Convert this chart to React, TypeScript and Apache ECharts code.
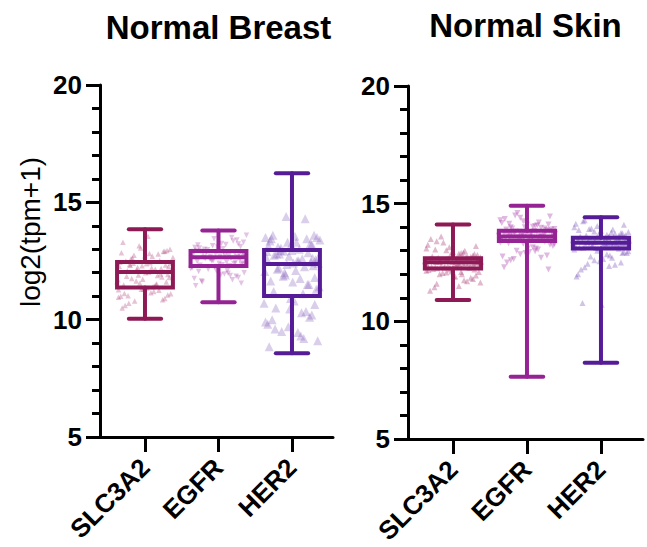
import React, { useEffect, useRef } from "react";
import * as echarts from "echarts";

const genes = ["SLC3A2", "EGFR", "HER2"];
const panels = ["Normal Breast", "Normal Skin"];
const yTicks = [5, 10, 15, 20];

// [min, Q1, median, Q3, max]
const breastSLC3A2Box = [10.04, 11.37, 12.03, 12.46, 13.85];
const breastEGFRBox = [10.74, 12.29, 12.66, 12.93, 13.8];
const breastHER2Box = [8.57, 11.01, 12.37, 12.97, 16.24];
const skinSLC3A2Box = [10.91, 12.25, 12.51, 12.68, 14.11];
const skinEGFRBox = [7.65, 13.41, 13.6, 13.85, 14.91];
const skinHER2Box = [8.24, 13.1, 13.34, 13.55, 14.42];

const jitter = [
  -0.31, 0.12, 0.27, -0.05, -0.22, 0.35, 0.03, -0.36, 0.19, -0.14,
  0.31, -0.27, 0.08, -0.02, 0.24, -0.33, 0.15, -0.09, 0.37, -0.18,
  0.01, 0.29, -0.25, 0.11, -0.37, 0.21, -0.07, 0.33, -0.12, 0.05,
  -0.29, 0.17, 0.36, -0.21, 0.09, -0.34, 0.26, -0.04, 0.14, -0.16,
  0.32, -0.24, 0.02, 0.22, -0.35, 0.07, -0.11, 0.28, -0.19, 0.34,
  -0.01, 0.18, -0.3, 0.1, -0.26, 0.25, -0.08, 0.38, -0.15, 0.04,
  -0.32, 0.2, -0.06, 0.3, -0.23, 0.13, -0.38, 0.23, -0.1, 0.35,
  -0.17, 0.06, -0.28, 0.16, -0.03, 0.31, -0.2, 0.0, 0.27, -0.36,
  0.11, -0.13, 0.37, -0.24, 0.08, -0.3, 0.19, -0.05, 0.33, -0.16,
  0.14, -0.34, 0.24, -0.09, 0.29, -0.22,
];

const breastSLC3A2Pts = [
  10.5, 11.2, 10.9, 11.3, 10.7, 11.1, 11.35, 10.95, 11.25, 10.8, 11.05, 10.6, 11.15, 11.3, 10.85, 11.0,
  11.5, 11.9, 11.45, 11.75, 12.0, 11.6, 11.85, 11.4, 11.7, 11.95, 11.55, 11.8, 11.65, 12.02, 11.48, 11.88,
  12.1, 12.35, 12.2, 12.45, 12.05, 12.3, 12.15, 12.4, 12.25, 12.08, 12.38, 12.18, 12.28, 12.43, 12.12, 12.33,
  12.6, 13.0, 12.55, 12.8, 13.3, 12.7, 12.5, 12.9, 13.15, 12.65, 12.75, 13.55, 12.85, 12.52, 13.05, 12.95,
  11.02, 11.42, 11.62, 11.82, 12.22, 12.42, 12.62, 12.82, 11.12, 11.52, 11.72, 11.92, 12.32, 12.72, 12.92, 11.28,
];
const breastEGFRPts = [
  11.45, 12.1, 11.8, 12.25, 11.6, 12.0, 11.9, 12.2, 11.7, 12.15, 11.55, 12.05, 11.95, 12.27, 11.85, 11.75,
  12.3, 12.5, 12.35, 12.6, 12.4, 12.55, 12.32, 12.45, 12.64, 12.38, 12.52, 12.42, 12.58, 12.34, 12.48, 12.62,
  12.7, 12.85, 12.75, 12.9, 12.68, 12.8, 12.72, 12.88, 12.78, 12.92, 12.7, 12.83, 12.74, 12.87, 12.69, 12.81,
  13.0, 13.3, 13.1, 13.5, 12.95, 13.2, 13.05, 13.4, 13.15, 13.6, 12.98, 13.25, 13.08, 13.35, 13.45, 13.12,
  11.65, 11.98, 12.18, 12.44, 12.56, 12.76, 12.86, 13.02, 13.18, 11.88, 12.08, 12.36, 12.66, 12.96, 13.22, 12.24,
];
const breastHER2Pts = [
  8.85, 9.3, 10.2, 9.7, 10.5, 9.1, 10.8, 9.9, 10.35, 9.5, 10.65, 10.0, 9.45, 10.9, 10.1, 9.8,
  11.1, 11.9, 11.4, 12.2, 11.6, 12.3, 11.2, 11.75, 12.05, 11.5, 12.35, 11.3, 11.85, 12.1, 11.65, 12.25,
  12.4, 12.8, 12.5, 12.9, 12.45, 12.7, 12.6, 12.95, 12.55, 12.75, 12.42, 12.85, 12.65, 12.5, 12.92, 12.62,
  13.1, 13.5, 13.2, 14.3, 13.35, 13.0, 13.6, 13.25, 14.4, 13.4, 13.05, 13.55, 13.15, 13.45, 13.3, 13.6,
  9.6, 10.3, 10.7, 11.5, 12.0, 12.6, 12.8, 13.3, 13.45, 9.2, 10.45, 11.8, 12.15, 12.95, 13.2, 13.5,
];
const skinSLC3A2Pts = [
  11.3, 12.0, 11.8, 12.2, 11.6, 12.1, 11.9, 12.15, 11.7, 12.05, 11.95, 12.22, 11.5, 12.12, 11.85, 12.18, 11.75, 12.08, 11.65, 12.0, 11.9, 12.2, 11.45, 12.1,
  12.3, 12.45, 12.35, 12.5, 12.28, 12.4, 12.32, 12.48, 12.38, 12.26, 12.43, 12.34, 12.47, 12.29, 12.41, 12.36, 12.49, 12.31, 12.44, 12.27, 12.39, 12.46, 12.33, 12.42,
  12.55, 12.65, 12.52, 12.6, 12.67, 12.54, 12.62, 12.58, 12.66, 12.53, 12.61, 12.57, 12.64, 12.56, 12.59, 12.63, 12.52, 12.66, 12.55, 12.6, 12.58, 12.64, 12.53, 12.62,
  12.75, 13.0, 12.85, 13.2, 12.7, 12.95, 12.8, 13.1, 12.9, 13.35, 12.72, 13.05, 12.88, 13.5, 12.78, 13.15, 12.82, 13.6, 12.92, 13.25, 12.74, 13.02, 12.86, 13.4,
];
const skinEGFRPts = [
  12.3, 13.1, 12.8, 13.3, 12.6, 13.2, 12.95, 13.35, 12.7, 13.0, 13.25, 12.5, 13.15, 12.9, 13.38, 12.75, 13.05, 12.85, 13.28, 12.65, 13.1, 12.2, 13.32, 12.98,
  13.45, 13.55, 13.42, 13.5, 13.58, 13.44, 13.52, 13.47, 13.57, 13.43, 13.5, 13.54, 13.46, 13.59, 13.48, 13.53, 13.41, 13.56, 13.49, 13.51, 13.45, 13.57, 13.44, 13.52,
  13.65, 13.8, 13.7, 13.62, 13.75, 13.84, 13.68, 13.78, 13.63, 13.72, 13.82, 13.66, 13.76, 13.61, 13.7, 13.83, 13.67, 13.79, 13.64, 13.74, 13.81, 13.69, 13.77, 13.73,
  13.9, 14.2, 14.0, 14.45, 13.95, 14.1, 13.88, 14.3, 14.05, 14.6, 13.92, 14.15, 14.02, 14.35, 13.98, 14.25, 13.9, 14.5, 14.08, 14.18, 13.94, 14.4, 14.12, 14.0,
];
const skinHER2Pts = [
  12.0, 12.8, 12.5, 13.0, 12.3, 12.9, 12.65, 13.05, 12.4, 12.75, 12.95, 12.2, 12.85, 12.55, 13.08, 11.9, 12.7, 12.6, 12.98, 12.45, 10.7, 12.9, 10.78, 12.35,
  13.15, 13.3, 13.12, 13.25, 13.2, 13.32, 13.14, 13.28, 13.18, 13.22, 13.3, 13.16, 13.26, 13.11, 13.24, 13.19, 13.33, 13.13, 13.27, 13.21, 13.17, 13.29, 13.23, 13.31,
  13.38, 13.5, 13.42, 13.36, 13.46, 13.54, 13.4, 13.48, 13.37, 13.44, 13.52, 13.39, 13.47, 13.41, 13.53, 13.43, 13.49, 13.35, 13.45, 13.51, 13.4, 13.46, 13.38, 13.5,
  13.6, 13.9, 13.7, 14.1, 13.65, 13.85, 13.75, 14.0, 13.62, 13.95, 13.8, 14.25, 13.68, 13.88, 13.72, 14.05, 13.66, 13.92, 13.78, 14.15, 13.64, 13.82, 13.74, 14.3,
];

const boxes = [
  [breastSLC3A2Box, breastEGFRBox, breastHER2Box],
  [skinSLC3A2Box, skinEGFRBox, skinHER2Box],
];
const points = [
  [breastSLC3A2Pts, breastEGFRPts, breastHER2Pts],
  [skinSLC3A2Pts, skinEGFRPts, skinHER2Pts],
];

const colors = ["#8E1A55", "#952393", "#561C98"];
const pointColors = [
  ["rgba(170,60,118,0.38)", "rgba(168,62,168,0.38)", "rgba(118,78,182,0.34)"],
  ["rgba(170,60,118,0.45)", "rgba(168,62,168,0.45)", "rgba(118,78,182,0.42)"],
];
const FONT = "'Liberation Sans', Arial, Helvetica, sans-serif";

export default function App() {
  const ref = useRef<HTMLDivElement>(null);
  useEffect(() => {
    if (!ref.current) return;
    document.body.style.margin = "0";
    document.body.style.overflow = "hidden";
    const chart = echarts.init(ref.current, null, { renderer: "svg" });

    const gridDefs = [
      { left: 100, top: 85, width: 233, height: 352, xmin: 0.388, xmax: 3.558 },
      { left: 408, top: 86, width: 235, height: 353, xmin: 0.392, xmax: 3.568 },
    ];

    const grid = gridDefs.map((g) => ({
      left: g.left,
      top: g.top,
      width: g.width,
      height: g.height,
      containLabel: false,
      outerBoundsMode: "none",
    }));

    const xAxis = gridDefs.map((g, i) => ({
      type: "value",
      gridIndex: i,
      min: g.xmin,
      max: g.xmax,
      splitLine: { show: false },
      axisLine: { show: true, onZero: false, lineStyle: { color: "#000", width: 3 } },
      axisTick: { show: true, customValues: [1, 2, 3], length: 15, lineStyle: { color: "#000", width: 3 } },
      axisLabel: {
        show: true,
        customValues: [1, 2, 3],
        formatter: (v: number) => genes[Math.round(v) - 1] || "",
        rotate: 45,
        margin: 26,
        color: "#000",
        fontWeight: "bold",
        fontSize: 26,
        fontFamily: FONT,
        hideOverlap: false,
      },
    }));

    const yAxis = gridDefs.map((_, i) => ({
      type: "value",
      gridIndex: i,
      min: 5,
      max: 20,
      interval: 5,
      splitLine: { show: false },
      axisLine: { show: true, lineStyle: { color: "#000", width: 3 } },
      axisTick: { show: true, length: 14, lineStyle: { color: "#000", width: 3 } },
      minorTick: { show: true, splitNumber: 5, length: 8, lineStyle: { color: "#000", width: 3 } },
      axisLabel: {
        show: true,
        margin: 18,
        color: "#000",
        fontWeight: "bold",
        fontSize: 26,
        fontFamily: FONT,
        customValues: yTicks,
      },
    }));

    const series: any[] = [];
    for (let p = 0; p < 2; p++) {
      for (let g = 0; g < 3; g++) {
        const pts = points[p][g];
        series.push({
          type: "scatter",
          xAxisIndex: p,
          yAxisIndex: p,
          symbol: "triangle",
          symbolRotate: g === 1 ? 180 : 0,
          symbolSize: p === 0 && g === 2 ? 9 : p === 1 ? 6 : 5.5,
          itemStyle: { color: pointColors[p][g] },
          z: 1,
          data: pts.map((y, i) => [g + 1 + jitter[i % jitter.length], y]),
        });
      }
      series.push({
        type: "custom",
        xAxisIndex: p,
        yAxisIndex: p,
        z: 5,
        data: boxes[p].map((b, g) => [g + 1, ...b]),
        renderItem: (params: any, api: any) => {
          const x = api.value(0);
          const mn = api.coord([x, api.value(1)]);
          const q1 = api.coord([x, api.value(2)]);
          const md = api.coord([x, api.value(3)]);
          const q3 = api.coord([x, api.value(4)]);
          const mx = api.coord([x, api.value(5)]);
          const boxW = api.size([0.76, 0])[0];
          const capW = api.size([0.44, 0])[0];
          const color = colors[params.dataIndex];
          const lw = 4;
          const st = { stroke: color, lineWidth: lw, fill: "none", lineCap: "round" };
          const cx = mn[0];
          return {
            type: "group",
            children: [
              { type: "line", shape: { x1: cx, y1: mx[1], x2: cx, y2: q3[1] }, style: st },
              { type: "line", shape: { x1: cx, y1: q1[1], x2: cx, y2: mn[1] }, style: st },
              { type: "line", shape: { x1: cx - capW / 2, y1: mx[1], x2: cx + capW / 2, y2: mx[1] }, style: st },
              { type: "line", shape: { x1: cx - capW / 2, y1: mn[1], x2: cx + capW / 2, y2: mn[1] }, style: st },
              {
                type: "rect",
                shape: { x: cx - boxW / 2, y: q3[1], width: boxW, height: q1[1] - q3[1] },
                style: { stroke: color, lineWidth: lw, fill: "none" },
              },
              { type: "line", shape: { x1: cx - boxW / 2, y1: md[1], x2: cx + boxW / 2, y2: md[1] }, style: { stroke: color, lineWidth: lw } },
            ],
          };
        },
      });
    }

    chart.setOption({
      animation: false,
      backgroundColor: "#fff",
      grid,
      xAxis,
      yAxis,
      series,
      graphic: [
        {
          type: "text",
          x: 218.5,
          y: 27,
          style: { text: panels[0], fill: "#000", font: `bold 33px ${FONT}`, textAlign: "center", textVerticalAlign: "middle" },
        },
        {
          type: "text",
          x: 525.5,
          y: 25,
          style: { text: panels[1], fill: "#000", font: `bold 33px ${FONT}`, textAlign: "center", textVerticalAlign: "middle" },
        },
        {
          type: "text",
          x: 30,
          y: 232,
          rotation: Math.PI / 2,
          style: { text: "log2(tpm+1)", fill: "#000", font: `28px ${FONT}`, textAlign: "center", textVerticalAlign: "middle" },
        },
      ],
    });
    return () => chart.dispose();
  }, []);
  return <div ref={ref} style={{ position: "fixed", left: 0, top: 0, width: 647, height: 547, background: "#fff" }} />;
}
